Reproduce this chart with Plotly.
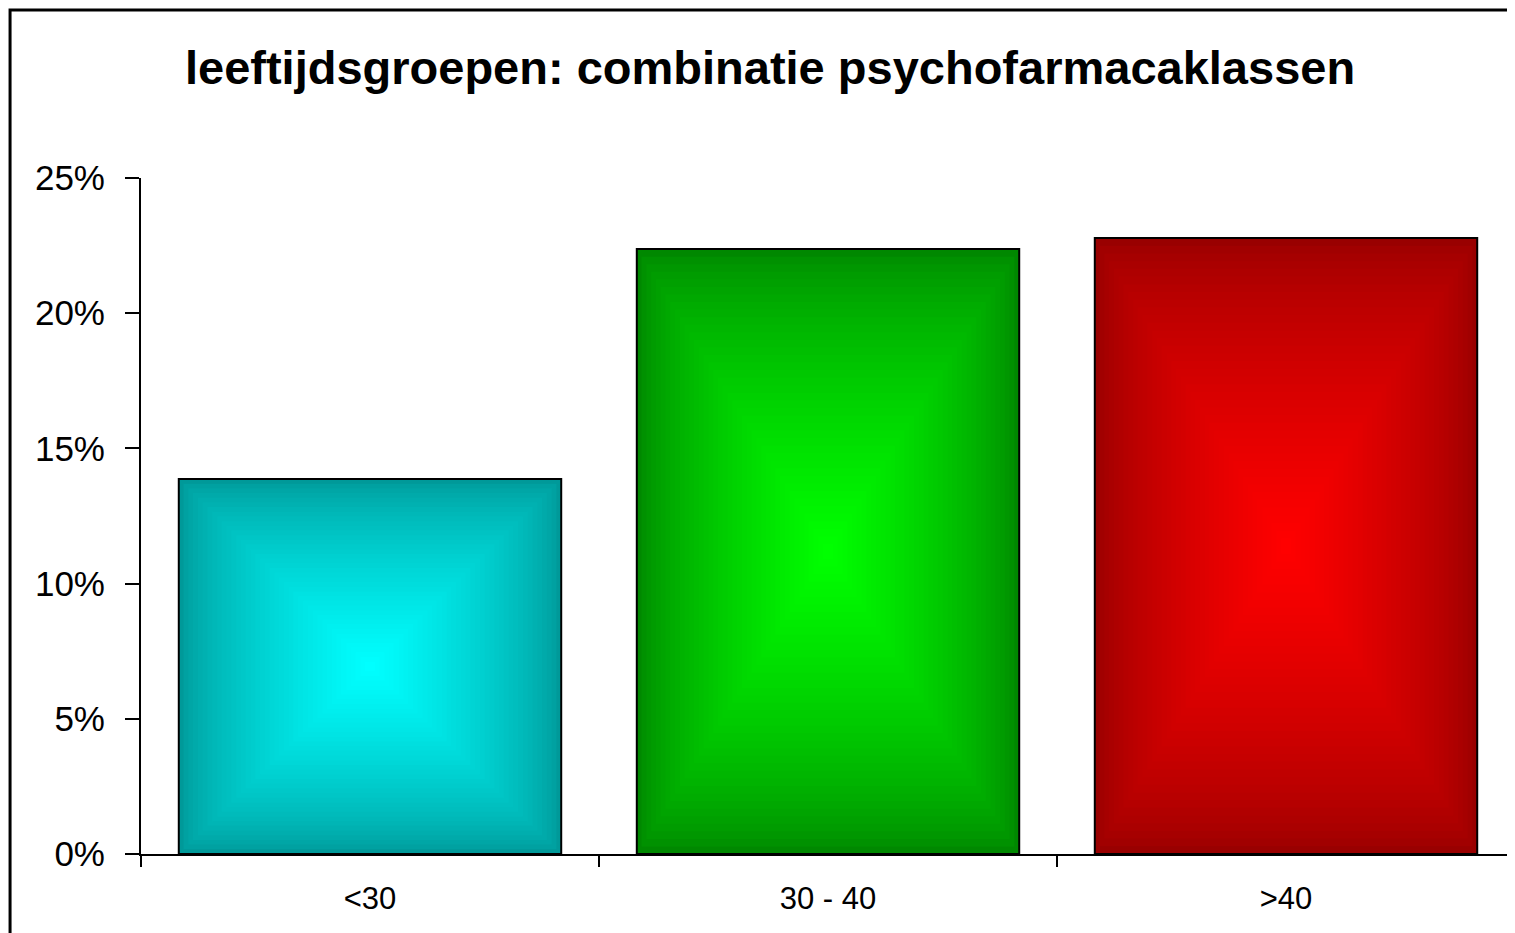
import plotly.graph_objects as go

# ---- data ----
categories = ["<30", "30 - 40", ">40"]
values = [0.1387, 0.2237, 0.2278]
edge_colors = [(0, 153, 153), (0, 136, 0), (153, 0, 0)]
center_colors = [(0, 255, 255), (0, 255, 0), (255, 0, 0)]
y_tick_vals = [0, 0.05, 0.10, 0.15, 0.20, 0.25]
title_text = "leeftijdsgroepen: combinatie psychofarmacaklassen"

BAR_W = 0.835
N_LAYERS = 40

def lerp(c1, c2, t):
    return "rgb(%d,%d,%d)" % tuple(round(a + (b - a) * t) for a, b in zip(c1, c2))

fig = go.Figure()
for k in range(N_LAYERS):
    s = 1 - k / N_LAYERS
    t = k / (N_LAYERS - 1)
    t = t ** 0.7
    fig.add_trace(go.Bar(
        x=categories,
        y=[v * s for v in values],
        base=[v * (1 - s) / 2 for v in values],
        width=BAR_W * s,
        marker=dict(
            color=[lerp(e, c, t) for e, c in zip(edge_colors, center_colors)],
            line=dict(color="black", width=2 if k == 0 else 0),
        ),
        hoverinfo="skip",
        showlegend=False,
    ))

fig.update_layout(
    width=1515, height=933,
    barmode="overlay",
    plot_bgcolor="white", paper_bgcolor="white",
    margin=dict(l=133, r=8, t=170, b=87),
    font=dict(family="Liberation Sans, Arial, sans-serif", color="black"),
    title=dict(text="<b>" + title_text + "</b>", x=0.503, xref="container", xanchor="center",
               y=0.936, yanchor="middle", font=dict(size=47, color="black")),
    xaxis=dict(
        type="category", showline=True, linecolor="black", linewidth=2,
        ticks="outside", tickson="boundaries", ticklen=11, tickcolor="black", tickwidth=2,
        tickfont=dict(size=31), ticklabelstandoff=16, showgrid=False, zeroline=False,
    ),
    yaxis=dict(
        range=[0, 0.25], tickvals=y_tick_vals, tickformat=".0%",
        showline=True, linecolor="black", linewidth=2,
        ticks="outside", ticklen=14, tickcolor="black", tickwidth=2,
        tickfont=dict(size=35), ticklabelstandoff=13, showgrid=False, zeroline=False,
    ),
    shapes=[dict(type="rect", xref="paper", yref="paper",
                 x0=-0.0953, x1=0.9978, y0=-0.2, y1=1.2485,
                 line=dict(color="black", width=3), fillcolor="rgba(0,0,0,0)", layer="above")],
)

fig.write_html("out.html")
